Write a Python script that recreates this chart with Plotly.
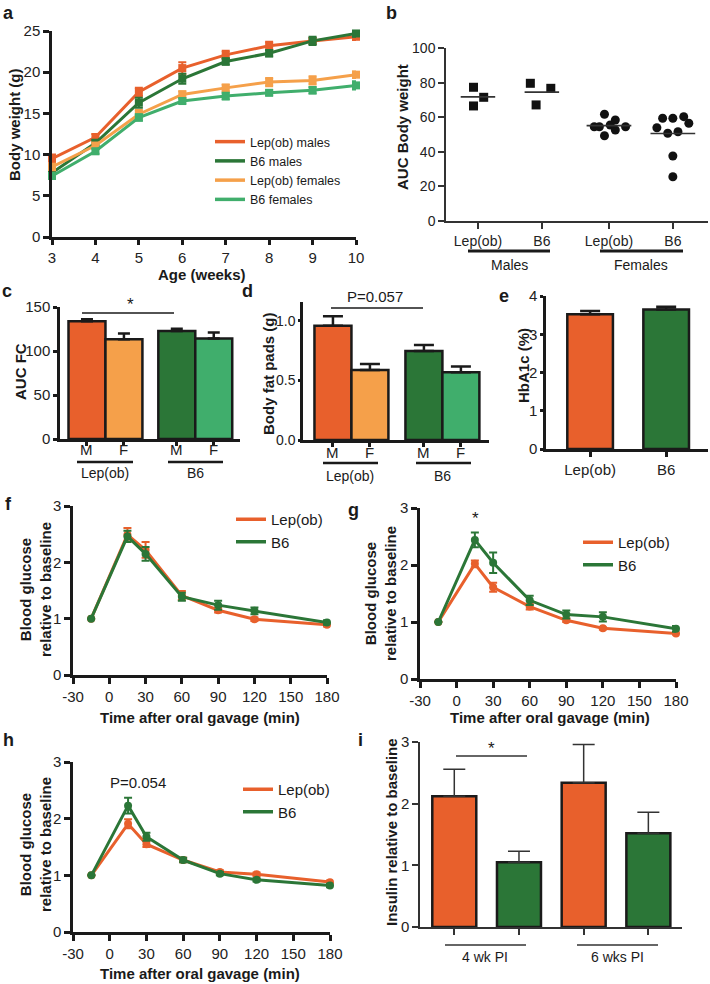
import plotly.graph_objects as go
import numpy as np

W, H = 710, 984
def px(x): return x / W
def py(y): return 1 - y / H

FONT = "Arial, Liberation Sans, Helvetica, sans-serif"
INK = '#1a1a1a'
GRAY = '#333333'
C_LEP = '#E8602C'
C_B6 = '#2B7637'
C_LEPF = '#F5A04A'
C_B6F = '#40AE6C'

# ---------------- data ----------------
# a: body weight
weeks = [3, 4, 5, 6, 7, 8, 9, 10]
lep_m = [9.5, 12.1, 17.6, 20.5, 22.1, 23.2, 23.8, 24.3]
lep_m_err = [0.5, 0.4, 0.5, 0.7, 0.5, 0.5, 0.3, 0.4]
b6_m = [7.8, 11.4, 16.3, 19.2, 21.3, 22.3, 23.8, 24.7]
b6_m_err = [0.3, 0.4, 0.6, 0.6, 0.4, 0.4, 0.5, 0.4]
lep_f = [8.5, 11.1, 14.9, 17.3, 18.1, 18.8, 19.0, 19.7]
lep_f_err = [0.4, 0.3, 0.5, 0.4, 0.4, 0.5, 0.5, 0.4]
b6_f = [7.4, 10.4, 14.5, 16.5, 17.1, 17.5, 17.8, 18.4]
b6_f_err = [0.3, 0.3, 0.4, 0.3, 0.4, 0.3, 0.4, 0.5]

# b: AUC body weight (individual animals)
b_groups = ['Lep(ob)', 'B6', 'Lep(ob)', 'B6']
b_lep_m = [77.3, 71.5, 66.5]
b_lep_m_jit = [-0.07, 0.09, -0.07]
b_b6_m = [79.6, 76.7, 67.1]
b_b6_m_jit = [-0.18, 0.14, -0.09]
b_lep_f = [61.7, 54.5, 54.5, 55.5, 58.4, 52.6, 49.3, 54.5]
b_lep_f_jit = [-0.07, -0.23, -0.15, 0.02, 0.10, 0.10, -0.07, 0.26]
b_b6_f = [59.4, 59.4, 60.3, 56.5, 53.9, 50.7, 51.6, 37.6, 25.6]
b_b6_f_jit = [-0.16, 0.0, 0.17, 0.25, -0.25, -0.08, 0.08, 0.0, 0.0]

# c: AUC FC
c_labels = ['M', 'F', 'M', 'F']
c_vals = [133.7, 113.3, 122.8, 114.1]
c_err = [2.3, 6.5, 2.6, 6.8]

# d: body fat pads
d_vals = [0.958, 0.587, 0.746, 0.567]
d_err = [0.08, 0.05, 0.05, 0.05]

# e: HbA1c
e_labels = ['Lep(ob)', 'B6']
e_vals = [3.52, 3.65]
e_err = [0.09, 0.07]

# f, g, h: glucose tolerance
times = [-15, 15, 30, 60, 90, 120, 180]
time_ticks = [-30, 0, 30, 60, 90, 120, 150, 180]
f_lep = [1.0, 2.49, 2.22, 1.41, 1.15, 0.99, 0.89]
f_lep_err = [0, 0.12, 0.14, 0.08, 0.04, 0.03, 0.03]
f_b6 = [1.0, 2.46, 2.15, 1.39, 1.24, 1.14, 0.93]
f_b6_err = [0, 0.10, 0.12, 0.07, 0.08, 0.06, 0.04]

g_lep = [1.0, 2.02, 1.61, 1.27, 1.03, 0.89, 0.80]
g_lep_err = [0, 0.06, 0.08, 0.05, 0.03, 0.02, 0.02]
g_b6 = [1.0, 2.44, 2.04, 1.38, 1.13, 1.09, 0.88]
g_b6_err = [0, 0.13, 0.18, 0.08, 0.07, 0.08, 0.05]

h_lep = [1.0, 1.91, 1.55, 1.27, 1.06, 1.02, 0.88]
h_lep_err = [0, 0.08, 0.05, 0.04, 0.03, 0.03, 0.03]
h_b6 = [1.0, 2.23, 1.68, 1.27, 1.03, 0.92, 0.82]
h_b6_err = [0, 0.14, 0.07, 0.04, 0.03, 0.03, 0.03]

# i: insulin
i_groups = ['4 wk PI', '6 wks PI']
i_vals = [2.12, 1.05, 2.34, 1.52]
i_err = [0.44, 0.18, 0.62, 0.34]

# ---------------- figure ----------------
fig = go.Figure()

def line_trace(x, y, err, color, xa, ya, symbol, size):
    return go.Scatter(x=x, y=y, xaxis=xa, yaxis=ya, mode='lines+markers',
                      line=dict(color=color, width=3),
                      marker=dict(symbol=symbol, size=size, color=color),
                      error_y=dict(type='data', array=err, color=color, thickness=2, width=4),
                      cliponaxis=False, showlegend=False)

def legend_trace(name, color, xa, ya, leg):
    return go.Scatter(x=[None], y=[None], xaxis=xa, yaxis=ya, mode='lines',
                      line=dict(color=color, width=3.5), name=name, legend=leg, showlegend=True)

# a
for y, e, c in [(lep_m, lep_m_err, C_LEP), (b6_m, b6_m_err, C_B6),
                (lep_f, lep_f_err, C_LEPF), (b6_f, b6_f_err, C_B6F)]:
    fig.add_trace(line_trace(weeks, y, e, c, 'x', 'y', 'square', 8))
for c, n in [(C_LEP, 'Lep(ob) males'), (C_B6, 'B6 males'), (C_LEPF, 'Lep(ob) females'), (C_B6F, 'B6 females')]:
    fig.add_trace(legend_trace(n, c, 'x', 'y', 'legend'))

# b
b_pos = [0, 1, 2.05, 3.05]
for pos, vals, jit, sym in [(b_pos[0], b_lep_m, b_lep_m_jit, 'square'),
                            (b_pos[1], b_b6_m, b_b6_m_jit, 'square'),
                            (b_pos[2], b_lep_f, b_lep_f_jit, 'circle'),
                            (b_pos[3], b_b6_f, b_b6_f_jit, 'circle')]:
    fig.add_trace(go.Scatter(x=[pos + j for j in jit], y=vals, xaxis='x2', yaxis='y2', mode='markers',
                             marker=dict(symbol=sym, size=9, color='#111111'), showlegend=False,
                             cliponaxis=False))
    half = 0.27 if sym == 'square' else 0.35
    m = float(np.mean(vals))
    fig.add_trace(go.Scatter(x=[pos - half, pos + half], y=[m, m], xaxis='x2', yaxis='y2', mode='lines',
                             line=dict(color=GRAY, width=1.6), showlegend=False))

# c
c_pos = [0, 1, 2.43, 3.43]
fig.add_trace(go.Bar(x=c_pos, y=c_vals, xaxis='x3', yaxis='y3', width=1.0,
                     marker=dict(color=[C_LEP, C_LEPF, C_B6, C_B6F], line=dict(color=INK, width=2.5)),
                     error_y=dict(type='data', array=c_err, arrayminus=[0]*4, symmetric=False,
                                  color=INK, thickness=2.5, width=6), showlegend=False))
# d
d_pos = [0, 1, 2.46, 3.46]
fig.add_trace(go.Bar(x=d_pos, y=d_vals, xaxis='x4', yaxis='y4', width=1.0,
                     marker=dict(color=[C_LEP, C_LEPF, C_B6, C_B6F], line=dict(color=INK, width=2.5)),
                     error_y=dict(type='data', array=d_err, arrayminus=[0]*4, symmetric=False,
                                  color=INK, thickness=2.5, width=10), showlegend=False))
# e
e_pos = [0, 1]
fig.add_trace(go.Bar(x=e_pos, y=e_vals, xaxis='x5', yaxis='y5', width=0.6,
                     marker=dict(color=[C_LEP, C_B6], line=dict(color=INK, width=2.5)),
                     error_y=dict(type='data', array=e_err, arrayminus=[0]*2, symmetric=False,
                                  color=INK, thickness=2.5, width=10), showlegend=False))

# f, g, h
for (lep, lep_e, b6, b6_e, xa, ya, leg) in [(f_lep, f_lep_err, f_b6, f_b6_err, 'x6', 'y6', 'legend2'),
                                             (g_lep, g_lep_err, g_b6, g_b6_err, 'x7', 'y7', 'legend3'),
                                             (h_lep, h_lep_err, h_b6, h_b6_err, 'x8', 'y8', 'legend4')]:
    fig.add_trace(line_trace(times, lep, lep_e, C_LEP, xa, ya, 'circle', 8))
    fig.add_trace(line_trace(times, b6, b6_e, C_B6, xa, ya, 'circle', 8))
    fig.add_trace(legend_trace('Lep(ob)', C_LEP, xa, ya, leg))
    fig.add_trace(legend_trace('B6', C_B6, xa, ya, leg))

# i
i_pos = [0, 1, 2, 3]
fig.add_trace(go.Bar(x=i_pos, y=i_vals, xaxis='x9', yaxis='y9', width=0.68,
                     marker=dict(color=[C_LEP, C_B6, C_LEP, C_B6], line=dict(color=INK, width=2.5)),
                     error_y=dict(type='data', array=i_err, arrayminus=[0]*4, symmetric=False,
                                  color=GRAY, thickness=1.5, width=11), showlegend=False))

# ---------------- axes ----------------
def ax(xr, rng, anchor, lw=2.5, color=INK, ticklen=6, size=15, **kw):
    d = dict(domain=list(xr), range=rng, anchor=anchor, showline=True, linecolor=color, linewidth=lw,
             ticks='outside', ticklen=ticklen, tickwidth=lw, tickcolor=color, showgrid=False,
             zeroline=False, tickfont=dict(family=FONT, size=size, color='#222222'), fixedrange=True,
             automargin=False)
    d.update(kw)
    return d

def xdom(a, b): return (px(a), px(b))
def ydom(top, bot): return (py(bot), py(top))

blank4 = ['', '', '', '']
time_text = [str(t) for t in time_ticks]
layout = dict(
    width=W, height=H, margin=dict(l=0, r=0, t=0, b=0, autoexpand=False),
    paper_bgcolor='white', plot_bgcolor='white', barmode='overlay',
    font=dict(family=FONT, color=INK),
    # a
    xaxis=ax(xdom(52, 356), [3, 10], 'y', ticklen=5, tickvals=weeks),
    yaxis=ax(ydom(31, 237), [0, 25], 'x', tickvals=[0, 5, 10, 15, 20, 25]),
    # b
    xaxis2=ax(xdom(446, 708), [-0.5, 3.6], 'y2', lw=1.5, color=GRAY, size=14,
              tickvals=b_pos, ticktext=b_groups),
    yaxis2=ax(ydom(48, 221), [0, 100], 'x2', lw=1.5, color=GRAY, size=14,
              tickvals=[0, 20, 40, 60, 80, 100]),
    # c
    xaxis3=ax(xdom(60, 240), [-0.73, 4.14], 'y3', ticklen=4, tickvals=c_pos, ticktext=blank4),
    yaxis3=ax(ydom(307, 439), [0, 150], 'x3', ticklen=4, tickvals=[0, 50, 100, 150]),
    # d
    xaxis4=ax(xdom(303, 489), [-0.81, 4.22], 'y4', ticklen=4, tickvals=d_pos, ticktext=blank4),
    yaxis4=ax(ydom(302, 440), [0, 1.157], 'x4', ticklen=2, size=14, tickvals=[0, 0.5, 1.0],
              tickformat='.1f'),
    # e
    xaxis5=ax(xdom(546, 708), [-0.58, 1.55], 'y5', ticklen=5, tickvals=e_pos, ticktext=e_labels),
    yaxis5=ax(ydom(296, 449), [0, 4], 'x5', ticklen=3, tickvals=[0, 1, 2, 3, 4]),
    # f
    xaxis6=ax(xdom(73, 327), [-30, 180], 'y6', tickvals=time_ticks, ticktext=time_text),
    yaxis6=ax(ydom(506, 675), [0, 3], 'x6', tickvals=[0, 1, 2, 3]),
    # g
    xaxis7=ax(xdom(420, 676), [-30, 180], 'y7', tickvals=time_ticks, ticktext=time_text),
    yaxis7=ax(ydom(508, 679), [0, 3], 'x7', tickvals=[0, 1, 2, 3]),
    # h
    xaxis8=ax(xdom(73, 330), [-30, 180], 'y8', tickvals=time_ticks, ticktext=time_text),
    yaxis8=ax(ydom(762, 932), [0, 3], 'x8', tickvals=[0, 1, 2, 3]),
    # i
    xaxis9=ax(xdom(420, 682), [-0.53, 3.52], 'y9', lw=1.5, color=GRAY,
              tickvals=i_pos, ticktext=blank4),
    yaxis9=ax(ydom(742, 927), [0, 3], 'x9', lw=1.5, color=GRAY, tickvals=[0, 1, 2, 3]),
)

def leg(xp, yp, size):
    return dict(x=px(xp), y=py(yp), xanchor='left', yanchor='top', bgcolor='rgba(0,0,0,0)',
                font=dict(family=FONT, size=size, color=INK), itemwidth=30, borderwidth=0,
                tracegroupgap=0)

layout['legend'] = leg(210, 127, 12.5)
layout['legend2'] = leg(231, 503, 15)
layout['legend3'] = leg(578, 526, 15)
layout['legend4'] = leg(238, 773, 15)
fig.update_layout(**layout)

# ---------------- annotations ----------------
ann = []
def text(x, y, s, size=14, bold=False, angle=0):
    ann.append(dict(x=px(x), y=py(y), xref='paper', yref='paper', text=f'<b>{s}</b>' if bold else s,
                    showarrow=False, textangle=angle, xanchor='center', yanchor='middle',
                    font=dict(family=FONT, size=size, color=INK)))

def cat_label(xa, xv, y, s, size=15):
    ann.append(dict(x=xv, y=py(y), xref=xa, yref='paper', text=s, showarrow=False,
                    xanchor='center', yanchor='middle', font=dict(family=FONT, size=size, color='#222222')))

# panel letters
for s, x, y in [('a', 8, 13), ('b', 391, 13), ('c', 7, 291), ('d', 247, 291), ('e', 504, 296),
                ('f', 8, 504), ('g', 353, 510), ('h', 8, 740), ('i', 360, 740)]:
    text(x, y, s, size=18, bold=True)

# M / F category labels under the bars of c and d
for xv, s in zip(c_pos, c_labels):
    cat_label('x3', xv, 449, s)
for xv, s in zip(d_pos, c_labels):
    cat_label('x4', xv, 452, s)

# axis titles
text(14, 125, 'Body weight (g)', 15, True, -90)
text(202, 274, 'Age (weeks)', 15, True)
text(403, 127, 'AUC Body weight', 15, True, -90)
text(20, 372, 'AUC FC', 15, True, -90)
text(268, 374, 'Body fat pads (g)', 15, True, -90)
text(523, 366, 'HbA1c (%)', 15, True, -90)
for (x, y) in [(35, 590), (380, 593), (35, 845)]:
    text(x, y, 'Blood glucose<br>relative to baseline', 15, True, -90)
for (x, y) in [(200, 717), (550, 717), (200, 973)]:
    text(x, y, 'Time after oral gavage (min)', 15, True)
text(391, 832, 'Insulin relative to baseline', 15, True, -90)

# group labels
text(509, 265, 'Males', 14)
text(641, 265, 'Females', 14)
text(105, 473, 'Lep(ob)', 14)
text(195, 473, 'B6', 14)
text(350, 476, 'Lep(ob)', 14)
text(443, 476, 'B6', 14)
text(485, 957, i_groups[0], 14)
text(617, 957, i_groups[1], 14)

# significance
text(130, 304, '*', 17)
text(375, 297, 'P=0.057', 15)
text(475, 518, '*', 17)
text(138, 782, 'P=0.054', 15)
text(491, 748, '*', 17)

shapes = []
def hline(x0, x1, y, w, color=INK):
    shapes.append(dict(type='line', xref='paper', yref='paper', x0=px(x0), x1=px(x1), y0=py(y), y1=py(y),
                       line=dict(color=color, width=w)))

hline(468, 550, 251, 3)
hline(600, 683, 251, 3)
hline(77, 133, 462, 2.5)
hline(168, 223, 462, 2.5)
hline(323, 378, 463, 2.5)
hline(416, 471, 463, 2.5)
hline(445, 526, 945, 1.5, GRAY)
hline(577, 658, 945, 1.5, GRAY)
hline(82, 174, 313, 1.5)
hline(331, 423, 308, 1.5)
hline(456, 527, 756, 1.5, GRAY)

fig.update_layout(annotations=ann, shapes=shapes)
fig.write_html('out.html', config={'displayModeBar': False},
               post_script="document.body.style.margin='0';document.body.style.overflow='hidden';")
